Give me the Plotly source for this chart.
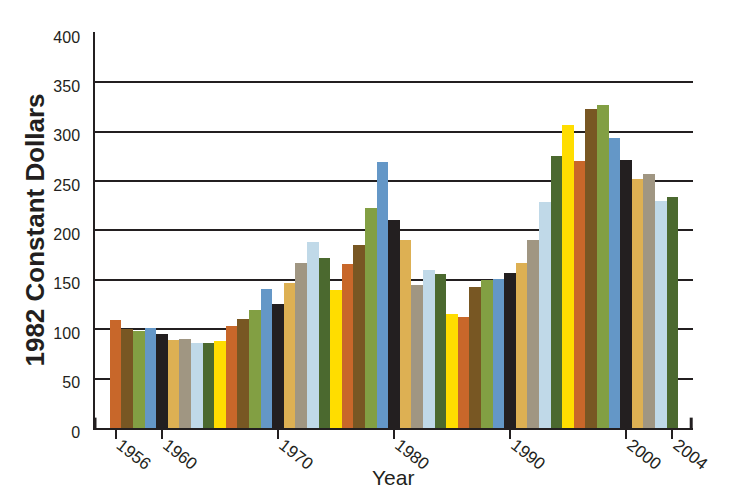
import plotly.graph_objects as go

# spending per year, in 1982 constant dollars
years = list(range(1956, 2005))
values = [109, 100, 98, 101, 95, 89, 90, 86, 86, 88,
          103, 110, 119, 141, 126, 147, 167, 188, 172, 140,
          166, 185, 223, 269, 211, 190, 145, 160, 156, 115,
          112, 143, 150, 151, 157, 167, 190, 229, 275, 307,
          270, 323, 327, 294, 271, 252, 257, 230, 234]

# the ten colours repeat in order through the years
palette = ['#C8672A', '#785723', '#829F43', '#6497C7', '#231F20',
           '#DDB053', '#A09682', '#C0D9E8', '#4B692F', '#FFDD00']
bar_colors = [palette[i % len(palette)] for i in range(len(years))]

tick_years = [1956, 1960, 1970, 1980, 1990, 2000, 2004]
y_ticks = list(range(0, 401, 50))

ink = '#231F20'

fig = go.Figure(go.Bar(
    x=years,
    y=values,
    marker=dict(color=bar_colors, line=dict(width=0)),
    hoverinfo='x+y',
))

fig.update_layout(
    width=739, height=498,
    margin=dict(l=95, r=46, t=32, b=70),
    paper_bgcolor='white',
    plot_bgcolor='white',
    bargap=0,
    showlegend=False,
    font=dict(family='Liberation Sans, Arial, sans-serif', color=ink),
)

fig.update_xaxes(
    range=[1954.23, 2005.78],
    automargin=False,
    tickmode='array',
    tickvals=tick_years,
    ticktext=[str(y) for y in tick_years],
    tickangle=38,
    ticks='outside', ticklen=9, tickwidth=1.5, tickcolor=ink,
    ticklabelstandoff=-10, ticklabelshift=5,
    tickfont=dict(size=17, color=ink),
    showgrid=False,
    showline=True, linecolor=ink, linewidth=1.5,
    layer='below traces',
)

fig.update_yaxes(
    range=[0, 401],
    automargin=False,
    tickmode='array',
    tickvals=y_ticks,
    ticks='', ticklabelstandoff=10, ticklabelshift=4,
    tickfont=dict(size=16, color=ink),
    showgrid=True, gridcolor=ink, gridwidth=1.5,
    zeroline=False,
    showline=True, linecolor=ink, linewidth=1.5,
    layer='below traces',
    title=dict(text='<b>1982 Constant Dollars</b>', font=dict(size=26, color=ink), standoff=1),
)

# x-axis title sits tighter under the rotated labels than plotly would place it
fig.add_annotation(text='Year', xref='paper', yref='paper', x=0.498, y=-0.126,
                   xanchor='center', yanchor='middle', showarrow=False,
                   font=dict(size=21, color=ink))

# short heavy end caps at both ends of the base line
for xp in (0, 0.997):
    fig.add_shape(type='line', xref='paper', yref='y', x0=xp, x1=xp, y0=0, y1=10.5,
                  line=dict(color=ink, width=3))

# drop the page's default body margin so the figure sits at the top-left corner
fig.write_html('out.html', config={'displayModeBar': False},
               post_script="document.body.style.margin='0px';")
